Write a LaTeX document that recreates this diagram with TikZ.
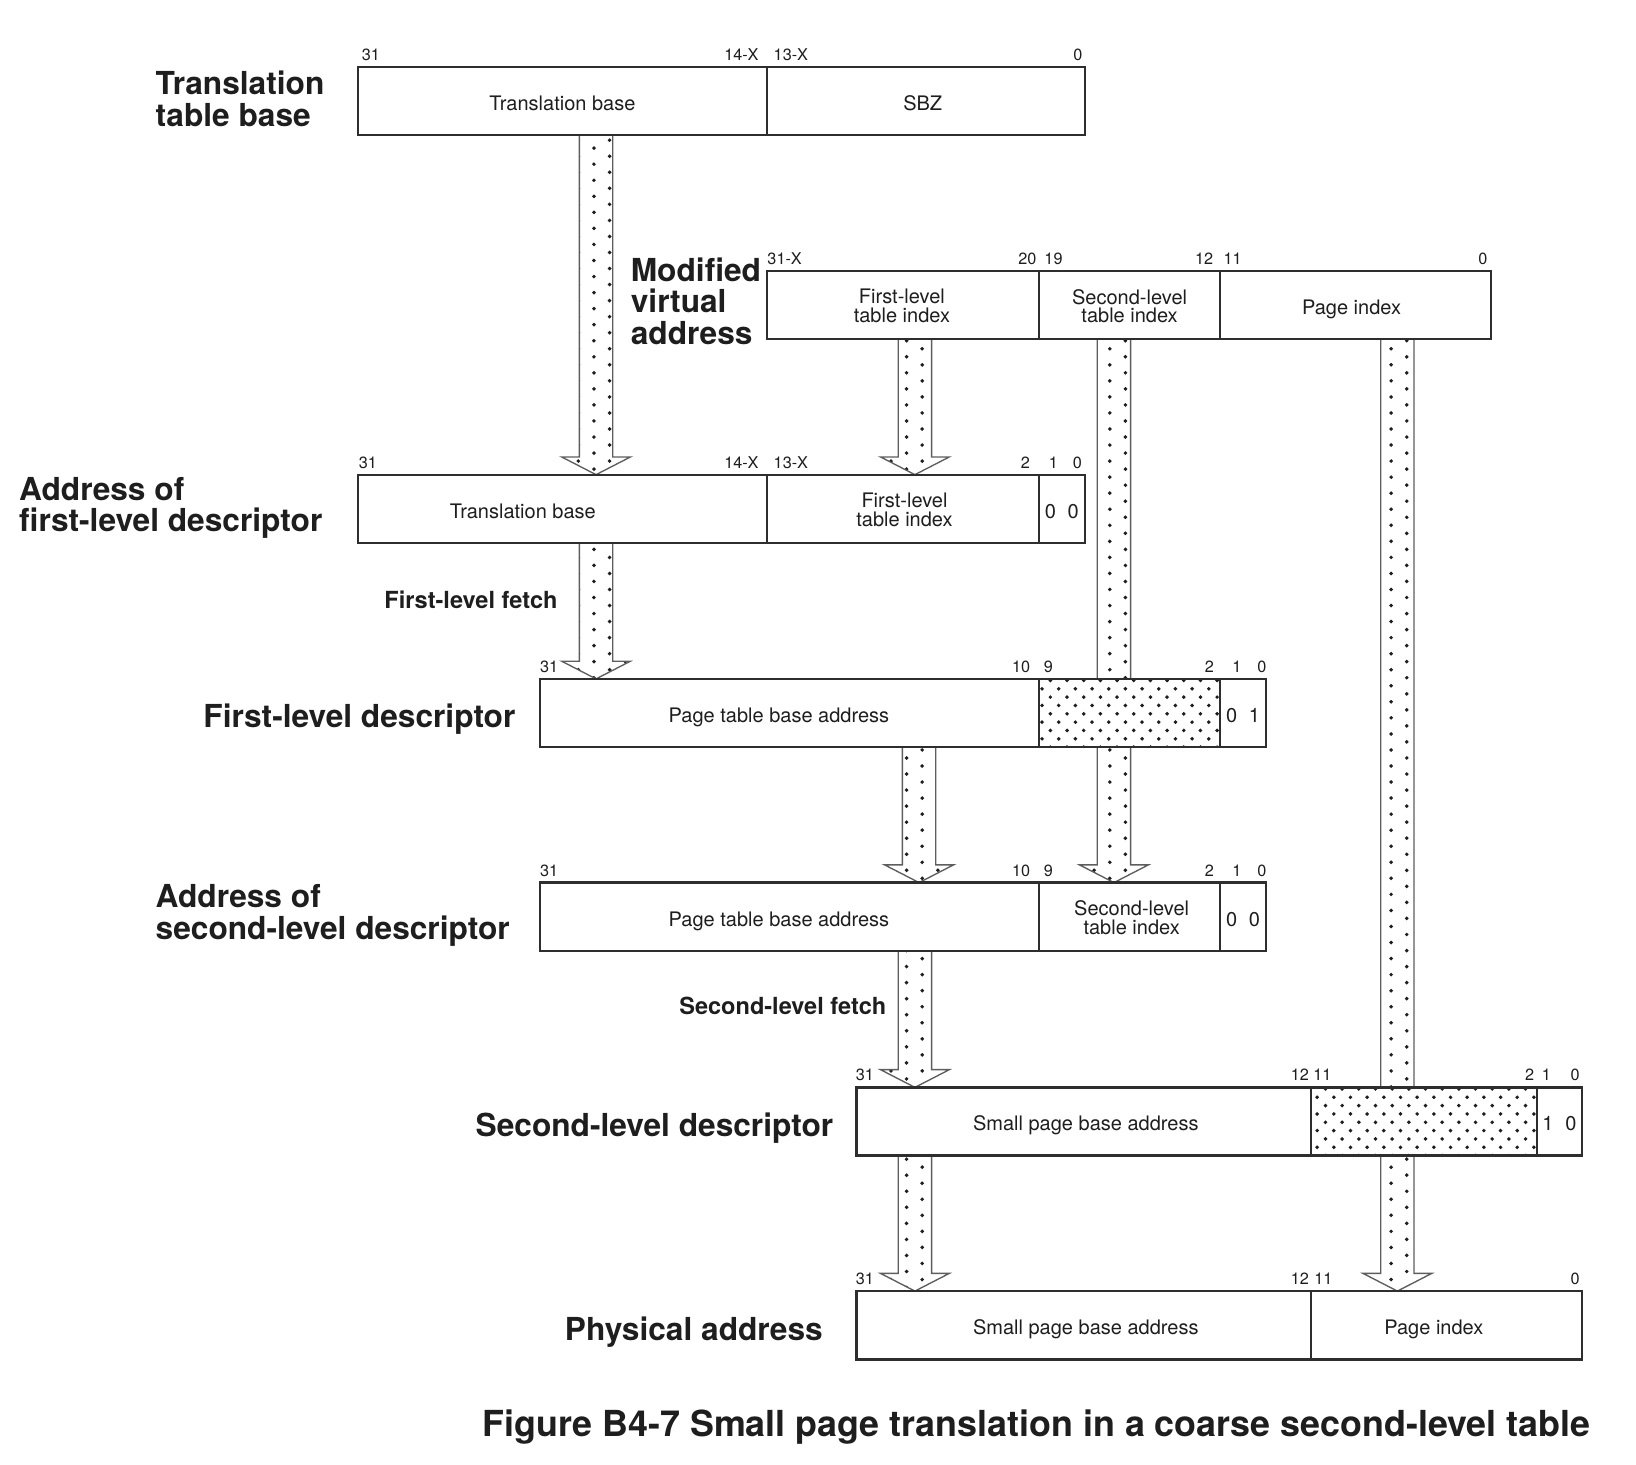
\documentclass[tikz,border=0pt]{standalone}
\usepackage{fontspec}
\setmainfont{TeX Gyre Heros}
\usetikzlibrary{calc,fit,patterns}

\pgfdeclarepatternformonly{fielddots}{\pgfqpoint{-1.2pt}{-1.2pt}}{\pgfqpoint{9.2pt}{9.2pt}}{\pgfqpoint{8pt}{8pt}}{%
  \pgfpathcircle{\pgfqpoint{0pt}{0pt}}{0.95pt}%
  \pgfpathcircle{\pgfqpoint{4pt}{4pt}}{0.95pt}%
  \pgfusepath{fill}}
\pgfdeclarepatternformonly{arrowdots}{\pgfqpoint{-1.2pt}{-1.2pt}}{\pgfqpoint{16.2pt}{8.9pt}}{\pgfqpoint{15pt}{7.7pt}}{%
  \pgfpathcircle{\pgfqpoint{0pt}{0pt}}{0.95pt}%
  \pgfpathcircle{\pgfqpoint{7.5pt}{3.85pt}}{0.95pt}%
  \pgfusepath{fill}}

\pgfdeclarelayer{arrowlayer}
\pgfsetlayers{arrowlayer,main}

\definecolor{ink}{HTML}{1E1E1E}
\definecolor{frame}{HTML}{2E2E2E}
\definecolor{shaft}{HTML}{5E5E5E}

\tikzset{
  fldbase/.style={draw=frame, line width=1.1pt, inner sep=0pt, outer sep=0pt, rectangle},
  fld/.style={fldbase, fill=white},
  dfld/.style={fldbase, preaction={fill=white}, pattern=fielddots, pattern color=ink},
  ftxt/.style={font=\fontsize{9.6}{9}\selectfont, text=ink, inner sep=0pt, align=center},
  bit/.style={font=\fontsize{7.8}{8}\selectfont, text=ink, inner sep=0pt, anchor=base},
  lab/.style={font=\bfseries\fontsize{15.2}{15.2}\selectfont, text=ink, inner sep=0pt, align=left},
  fetchlab/.style={font=\bfseries\fontsize{11.3}{12}\selectfont, text=ink, inner sep=0pt, anchor=base east},
  caplab/.style={font=\bfseries\fontsize{17.2}{17.2}\selectfont, text=ink, inner sep=0pt, anchor=base west},
  arrowline/.style={draw=shaft, line width=0.65pt, line join=miter},
}

% #1 = start point (top centre of shaft), #2 = tip of arrow head
\newcommand\fatarrow[2]{%
  \fill[white] ($(#1)+(-16,0)$) -- ($(#2)+(-16,-17)$) -- ($(#2)+(-33,-17)$) -- (#2)
     -- ($(#2)+(33,-17)$) -- ($(#2)+(16,-17)$) -- ($(#1)+(16,0)$) -- cycle;
  \fill[pattern=arrowdots, pattern color=ink] ($(#1)+(-16,0)$) -- ($(#2)+(-16,-17)$) -- ($(#2)+(-33,-17)$) -- (#2)
     -- ($(#2)+(33,-17)$) -- ($(#2)+(16,-17)$) -- ($(#1)+(16,0)$) -- cycle;
  \draw[arrowline] ($(#1)+(-16,0)$) -- ($(#2)+(-16,-17)$) -- ($(#2)+(-33,-17)$) -- (#2)
     -- ($(#2)+(33,-17)$) -- ($(#2)+(16,-17)$) -- ($(#1)+(16,0)$);
}

\begin{document}
\begin{tikzpicture}[x=0.5pt,y=-0.5pt]
\useasboundingbox (0,0) rectangle (1570,1405);

% ---------- fields ----------
% Row 1: translation table base
\node[fld, fit={(343.5,64) (736,129.5)}] (r1a) {};
\node[fld, fit={(736,64) (1041,129.5)}] (r1b) {};
% Row 2: modified virtual address
\node[fld, fit={(736,260) (997,325.5)}] (r2a) {};
\node[fld, fit={(997,260) (1171,325.5)}] (r2b) {};
\node[fld, fit={(1171,260) (1431,325.5)}] (r2c) {};
% Row 3: address of first-level descriptor
\node[fld, fit={(343.5,455.5) (736,521)}] (r3a) {};
\node[fld, fit={(736,455.5) (997,521)}] (r3b) {};
\node[fld, fit={(997,455.5) (1041,521)}] (r3c) {};
% Row 4: first-level descriptor
\node[fld, fit={(518,651.5) (997,717)}] (r4a) {};
\node[dfld, fit={(997,651.5) (1171,717)}] (r4b) {};
\node[fld, fit={(1171,651.5) (1215,717)}] (r4c) {};
% Row 5: address of second-level descriptor
\node[fld, fit={(518,847) (997,912.5)}] (r5a) {};
\node[fld, fit={(997,847) (1171,912.5)}] (r5b) {};
\node[fld, fit={(1171,847) (1215,912.5)}] (r5c) {};
% Row 6: second-level descriptor
\node[fld, fit={(822,1043.5) (1258,1109)}] (r6a) {};
\node[dfld, fit={(1258,1043.5) (1475,1109)}] (r6b) {};
\node[fld, fit={(1475,1043.5) (1518,1109)}] (r6c) {};
% Row 7: physical address
\node[fld, fit={(822,1239) (1258,1304.5)}] (r7a) {};
\node[fld, fit={(1258,1239) (1518,1304.5)}] (r7b) {};

% ---------- field texts ----------
\node[ftxt, anchor=base] (t1a) at ($(r1a)+(0,9)$) {Translation base};
\node[ftxt, anchor=base] (t1b) at ($(r1b)+(-3,9)$) {SBZ};
\node[ftxt] (t2a) at ($(r2a)+(-1,1)$) {First-level\\table index};
\node[ftxt] (t2b) at ($(r2b)+(0,1)$) {Second-level\\table index};
\node[ftxt, anchor=base] (t2c) at ($(r2c)+(-4,9)$) {Page index};
\node[ftxt, anchor=base] (t3a) at ($(r3a)+(-38,9)$) {Translation base};
\node[ftxt] (t3b) at ($(r3b)+(1.5,1)$) {First-level\\table index};
\node[ftxt, anchor=base] (t3c) at ($(r3c)+(0,9)$) {0\hspace{5.6pt}0};
\node[ftxt, anchor=base] (t4a) at ($(r4a)+(-10,9)$) {Page table base address};
\node[ftxt, anchor=base] (t4c) at ($(r4c)+(0,9)$) {0\hspace{5.6pt}1};
\node[ftxt, anchor=base] (t5a) at ($(r5a)+(-10,9)$) {Page table base address};
\node[ftxt] (t5b) at ($(r5b)+(2,1)$) {Second-level\\table index};
\node[ftxt, anchor=base] (t5c) at ($(r5c)+(0,9)$) {0\hspace{5.6pt}0};
\node[ftxt, anchor=base] (t6a) at ($(r6a)+(2,9)$) {Small page base address};
\node[ftxt, anchor=base] (t6c) at ($(r6c)+(0,9)$) {1\hspace{5.6pt}0};
\node[ftxt, anchor=base] (t7a) at ($(r7a)+(2,9)$) {Small page base address};
\node[ftxt, anchor=base] (t7b) at ($(r7b)+(-12,9)$) {Page index};

% ---------- bit numbers ----------
\node[bit] (b1a) at (356,57.7) {31};
\node[bit] (b1b) at (711.5,57.7) {14-X};
\node[bit] (b1c) at (759,57.7) {13-X};
\node[bit] (b1d) at (1034.5,57.7) {0};

\node[bit] (b2a) at (753,253.7) {31-X};
\node[bit] (b2b) at (986,253.7) {20};
\node[bit] (b2c) at (1011,253.7) {19};
\node[bit] (b2d) at (1155.5,253.7) {12};
\node[bit] (b2e) at (1183,253.7) {11};
\node[bit] (b2f) at (1423,253.7) {0};

\node[bit] (b3a) at (353,449.2) {31};
\node[bit] (b3b) at (711.5,449.2) {14-X};
\node[bit] (b3c) at (759,449.2) {13-X};
\node[bit] (b3d) at (984,449.2) {2};
\node[bit] (b3e) at (1011,449.2) {1};
\node[bit] (b3f) at (1034,449.2) {0};

\node[bit] (b4a) at (527,645.2) {31};
\node[bit] (b4b) at (980,645.2) {10};
\node[bit] (b4c) at (1006,645.2) {9};
\node[bit] (b4d) at (1160.5,645.2) {2};
\node[bit] (b4e) at (1187,645.2) {1};
\node[bit] (b4f) at (1211,645.2) {0};

\node[bit] (b5a) at (527,840.7) {31};
\node[bit] (b5b) at (980,840.7) {10};
\node[bit] (b5c) at (1006,840.7) {9};
\node[bit] (b5d) at (1160.5,840.7) {2};
\node[bit] (b5e) at (1187,840.7) {1};
\node[bit] (b5f) at (1211,840.7) {0};

\node[bit] (b6a) at (830,1037.2) {31};
\node[bit] (b6b) at (1247.5,1037.2) {12};
\node[bit] (b6c) at (1269,1037.2) {11};
\node[bit] (b6d) at (1468,1037.2) {2};
\node[bit] (b6e) at (1484,1037.2) {1};
\node[bit] (b6f) at (1511.5,1037.2) {0};

\node[bit] (b7a) at (830,1232.7) {31};
\node[bit] (b7b) at (1247.5,1232.7) {12};
\node[bit] (b7c) at (1270,1232.7) {11};
\node[bit] (b7d) at (1511.5,1232.7) {0};

% ---------- row labels ----------
\node[lab, anchor=west] (l1) at (149,95) {Translation\\table base};
\node[lab, anchor=west] (l2) at (605,289) {Modified\\virtual\\address};
\node[lab, anchor=west] (l3) at (18,487.5) {Address of\\first-level descriptor};
\node[lab, anchor=base east] (l4) at (495,698.5) {First-level descriptor};
\node[lab, anchor=west] (l5) at (149,878.5) {Address of\\second-level descriptor};
\node[lab, anchor=base east] (l6) at (800,1090.5) {Second-level descriptor};
\node[lab, anchor=base east] (l7) at (790,1286) {Physical address};
\node[fetchlab] (f1) at (535.5,584) {First-level fetch};
\node[fetchlab] (f2) at (851,974) {Second-level fetch};
\node[caplab] (cap) at (463,1379) {Figure B4-7 Small page translation in a coarse second-level table};

% ---------- arrows ----------
\coordinate (xA) at (572,0);
\coordinate (xB) at (878,0);
\coordinate (xC) at (1069,0);
\coordinate (xD) at (1341,0);
\coordinate (xE) at (882,0);

\coordinate (a1s) at (r1a.south -| xA); \coordinate (a1e) at (r3a.north -| xA);
\coordinate (a2s) at (r2a.south -| xB); \coordinate (a2e) at (r3b.north -| xB);
\coordinate (a3s) at (r2b.south -| xC); \coordinate (a3e) at (r5b.north -| xC);
\coordinate (a4s) at (r2c.south -| xD); \coordinate (a4e) at (r7b.north -| xD);
\coordinate (a5s) at (r3a.south -| xA); \coordinate (a5e) at (r4a.north -| xA);
\coordinate (a6s) at (r4a.south -| xE); \coordinate (a6e) at (r5a.north -| xE);
\coordinate (a7s) at (r5a.south -| xB); \coordinate (a7e) at (r6a.north -| xB);
\coordinate (a8s) at (r6a.south -| xB); \coordinate (a8e) at (r7a.north -| xB);

\begin{pgfonlayer}{arrowlayer}
\fill[white] (0,0) rectangle (1570,1405);
\fatarrow{a1s}{a1e}
\fatarrow{a2s}{a2e}
\fatarrow{a3s}{a3e}
\fatarrow{a4s}{a4e}
\fatarrow{a5s}{a5e}
\fatarrow{a6s}{a6e}
\fatarrow{a7s}{a7e}
\fatarrow{a8s}{a8e}
\end{pgfonlayer}
\end{tikzpicture}
\end{document}
